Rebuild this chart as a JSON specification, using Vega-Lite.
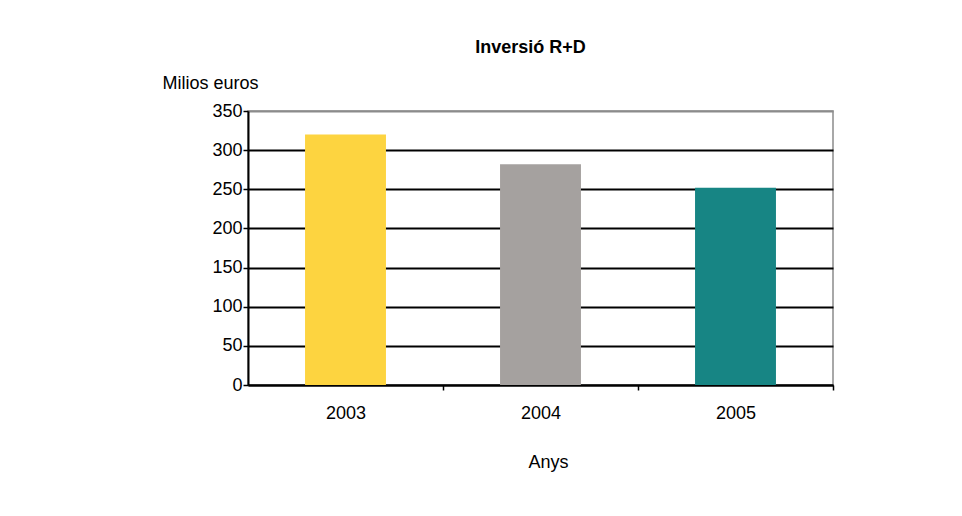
{
  "$schema": "https://vega.github.io/schema/vega-lite/v6.json",
  "autosize": "none",
  "width": 585,
  "height": 274,
  "padding": {"left": 248, "top": 111, "right": 129, "bottom": 131},
  "background": "white",
  "config": {
    "font": "Liberation Sans",
    "view": {"stroke": "#8c8c8c", "strokeWidth": 1.5}
  },
  "title": {
    "text": "Inversió R+D",
    "font": "Liberation Sans",
    "fontSize": 18,
    "fontWeight": "bold",
    "color": "black",
    "anchor": "middle",
    "frame": "group",
    "offset": 17,
    "dx": -10
  },
  "data": {
    "values": [
      {"any": "2003", "valor": 320},
      {"any": "2004", "valor": 282},
      {"any": "2005", "valor": 252}
    ]
  },
  "mark": {"type": "bar"},
  "encoding": {
    "x": {
      "field": "any",
      "type": "nominal",
      "scale": {"paddingInner": 0.585, "paddingOuter": 0.2925},
      "axis": {
        "title": "Anys",
        "titleFontSize": 18,
        "titleFontWeight": "normal",
        "titleColor": "black",
        "titlePadding": 31,
        "titleX": 300,
        "labelAngle": 0,
        "labelFontSize": 18,
        "labelColor": "black",
        "labelPadding": 14,
        "tickOffset": 97.5,
        "labelOffset": -97.5,
        "tickSize": 5,
        "tickColor": "black",
        "tickWidth": 1.5,
        "domainColor": "black",
        "domainWidth": 2,
        "grid": false
      }
    },
    "y": {
      "field": "valor",
      "type": "quantitative",
      "scale": {"domain": [0, 350], "nice": false},
      "axis": {
        "title": "Milios euros",
        "titleAngle": 0,
        "titleAlign": "left",
        "titleBaseline": "alphabetic",
        "titleX": -86,
        "titleY": -23,
        "titleFontSize": 18,
        "titleFontWeight": "normal",
        "titleColor": "black",
        "values": [0, 50, 100, 150, 200, 250, 300, 350],
        "labelFontSize": 18,
        "labelColor": "black",
        "labelPadding": 1,
        "tickSize": 5,
        "tickColor": "black",
        "tickWidth": 1.5,
        "domainColor": "black",
        "domainWidth": 2,
        "grid": true,
        "gridColor": {"condition": {"test": "datum.value == 350", "value": "#8c8c8c"}, "value": "black"},
        "gridWidth": 2,
        "gridOpacity": 1
      }
    },
    "color": {
      "field": "any",
      "type": "nominal",
      "scale": {"domain": ["2003", "2004", "2005"], "range": ["#FDD440", "#A5A19F", "#178584"]},
      "legend": null
    }
  }
}
